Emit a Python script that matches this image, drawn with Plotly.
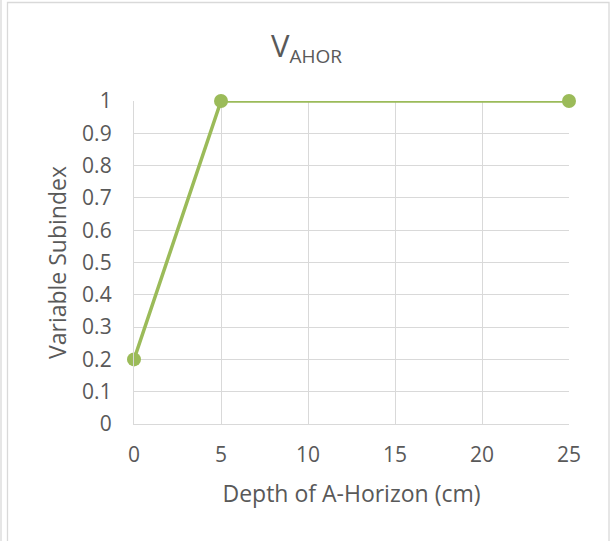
import plotly.graph_objects as go

# data
depth = [0, 5, 25]
subindex = [0.2, 1, 1]

x_ticks = [0, 5, 10, 15, 20, 25]
y_ticks = [0, 0.1, 0.2, 0.3, 0.4, 0.5, 0.6, 0.7, 0.8, 0.9, 1]
y_labels = ["0", "0.1", "0.2", "0.3", "0.4", "0.5", "0.6", "0.7", "0.8", "0.9", "1"]

green = "#9bbb59"
grid = "#d9d9d9"
txt = "#595959"
font_fam = "Open Sans, Liberation Sans, sans-serif"

fig = go.Figure()
fig.add_trace(go.Scatter(x=depth, y=subindex, mode="lines+markers",
                         line=dict(color=green, width=3.5),
                         marker=dict(color=green, size=14),
                         cliponaxis=False))

fig.update_layout(
    width=613, height=541,
    margin=dict(l=134, r=44, t=101, b=117),
    paper_bgcolor="white", plot_bgcolor="white",
    showlegend=False,
    font=dict(family=font_fam, color=txt, size=21),
    title=dict(text="V<sub><span style='font-size:19px'>AHOR</span></sub>",
               x=0.5, xref="container", xanchor="center",
               y=0.915, yref="container", yanchor="middle",
               font=dict(size=31, color=txt, family=font_fam)),
)

fig.update_xaxes(range=[0, 25], tickvals=x_ticks, showgrid=True, gridcolor=grid, gridwidth=1.3,
                 showline=True, linecolor=grid, linewidth=1.3, zeroline=False,
                 ticks="", ticklabelstandoff=12, tickfont=dict(size=21),
                 title=dict(text="Depth of A-Horizon (cm)", standoff=18, font=dict(size=23)))
fig.update_yaxes(range=[0, 1], tickvals=y_ticks, ticktext=y_labels, showgrid=True, gridcolor=grid,
                 gridwidth=1.3, showline=True, linecolor=grid, linewidth=1.3, zeroline=False,
                 ticks="", ticklabelstandoff=17, tickfont=dict(size=21),
                 title=dict(text="Variable Subindex", standoff=9, font=dict(size=23)))

# chart border (outer frame, cropped at the bottom)
pw, ph = 435, 323
fig.add_shape(type="rect", xref="paper", yref="paper",
              x0=(7.5 - 134) / pw, x1=(609 - 134) / pw,
              y0=(424 - 560) / ph, y1=(424 - 2.5) / ph,
              line=dict(color=grid, width=1.3), fillcolor="rgba(0,0,0,0)", layer="below")
fig.add_shape(type="line", xref="paper", yref="paper",
              x0=(1 - 134) / pw, x1=(1 - 134) / pw, y0=(424 - 560) / ph, y1=(424 + 5) / ph,
              line=dict(color=grid, width=1.3), layer="below")

fig.write_html("out.html", config={"displayModeBar": False},
               post_script="document.body.style.margin='0';")
